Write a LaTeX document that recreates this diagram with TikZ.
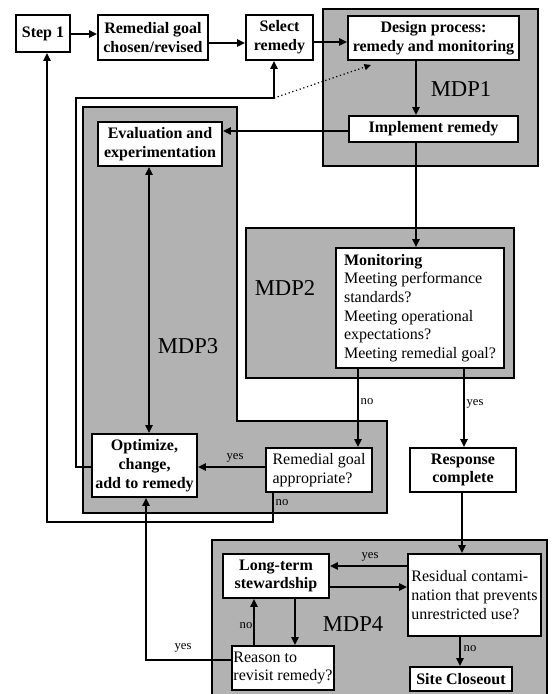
\documentclass[tikz,border=0pt]{standalone}
\usepackage{fontspec}
\setmainfont{Liberation Serif}
\usetikzlibrary{arrows.meta,calc}
\definecolor{mdpgray}{RGB}{178,178,178}
\begin{document}
\begin{tikzpicture}[x=0.75pt,y=-0.75pt,
  every node/.style={font=\fontsize{12}{14}\selectfont},
  sz/.style 2 args={minimum width=#1*0.75pt, minimum height=#2*0.75pt},
  box/.style={draw, fill=white, line width=1.4pt, inner sep=0pt},
  bbox/.style={box, font=\fontsize{12}{14}\selectfont\bfseries, align=center},
  tbox/.style={box, align=left},
  region/.style={draw, fill=mdpgray, line width=1.4pt},
  conn/.style={line width=1.4pt},
  tip/.tip={Triangle[length=6pt,width=5.5pt]},
  arr/.style={conn, -tip},
  lab/.style={font=\fontsize{9.5}{11}\selectfont, inner sep=0pt},
  mdp/.style={font=\fontsize{17}{20}\selectfont, inner sep=0pt}]
\useasboundingbox (0,0) rectangle (553,694);
\clip (0,0) rectangle (553,694);

% MDP regions
\draw[region] (323,9) rectangle (538,166);
\draw[region] (246,228) rectangle (514,378);
\draw[region] (83,107) -- (237,107) -- (237,421) -- (387,421) -- (387,513) -- (83,513) -- cycle;
\draw[region] (212,540) rectangle (547,720);

\node[mdp] (mdp1) at (461,89) {MDP1};
\node[mdp] (mdp2) at (285,288) {MDP2};
\node[mdp] (mdp3) at (188,346) {MDP3};
\node[mdp] (mdp4) at (353,624) {MDP4};

% boxes
\node[bbox, sz={54}{37}] (step1) at (43,33.5) {Step 1};
\node[bbox, sz={110}{45}] (rgoal) at (153,37.5) {Remedial goal\\chosen/revised};
\node[bbox, sz={67}{45}] (select) at (279.5,37.5) {Select\\remedy};
\node[bbox, sz={171}{44}] (design) at (433.5,38) {Design process:\\remedy and monitoring};
\node[bbox, sz={169}{26}] (impl) at (433.5,129) {Implement remedy};
\node[bbox, sz={124}{44}] (eval) at (160,144) {Evaluation and\\experimentation};
\node[bbox, sz={105}{63}] (opt) at (144.5,465.5) {Optimize,\\change,\\add to remedy};
\node[tbox, sz={168}{120}] (monitor) at (420,308) {\textbf{Monitoring}\\Meeting performance\\standards?\\Meeting operational\\expectations?\\Meeting remedial goal?};
\node[tbox, sz={106}{44}] (rga) at (319,470) {Remedial goal\\appropriate?};
\node[bbox, sz={106}{44}] (resp) at (463,470) {Response\\complete};
\node[bbox, sz={106}{44}] (lts) at (276,576) {Long-term\\stewardship};
\node[tbox, sz={133}{82}] (resid) at (474.5,595) {Residual contami-\\nation that prevents\\unrestricted use?};
\node[tbox, sz={102}{44}] (reason) at (283,668) {Reason to\\revisit remedy?};
\node[bbox, sz={102}{24}] (site) at (461,679) {Site Closeout};

% connectors
\draw[arr] (step1.east |- 0,34) -- (rgoal.west |- 0,34);
\draw[arr] (rgoal.east |- 0,43) -- (select.west |- 0,43);
\draw[arr] (select.east |- 0,42) -- (design.west |- 0,42);
\draw[arr] (design.south -| 416,0) -- (impl.north -| 416,0);
\draw[arr] (impl.west |- 0,131) -- (eval.east |- 0,131);
\draw[arr] (impl.south -| 416,0) -- (monitor.north -| 416,0);
\draw[conn, tip-tip] (eval.south -| 149,0) -- (opt.north -| 149,0);
\draw[arr] (monitor.south -| 358,0) -- (rga.north -| 358,0);
\draw[arr] (monitor.south -| 464,0) -- (resp.north -| 464,0);
\draw[arr] (rga.west |- 0,467) -- (opt.east |- 0,467);
\draw[arr] (opt.west |- 0,467) -- (76,467) -- (76,98) -- (274,98) coordinate (fb) -- (select.south -| 274,0);
\draw[line width=0.9pt, dotted, -{Triangle[length=5pt,width=4.5pt]}] (fb) -- ($(design.south west)+(24,4)$);
\draw[arr] (rga.south -| 273,0) -- (273,522) -- (47,522) -- (step1.south -| 47,0);
\draw[arr] (resp.south -| 462,0) -- (resid.north -| 462,0);
\draw[arr] (resid.west |- 0,566) -- (lts.east |- 0,566);
\draw[arr] (lts.east |- 0,587) -- (resid.west |- 0,587);
\draw[arr] (lts.south -| 295,0) -- (reason.north -| 295,0);
\draw[arr] (reason.north -| 254,0) -- (lts.south -| 254,0);
\draw[arr] (reason.west |- 0,660) -- (146,660) -- (opt.south -| 146,0);
\draw[arr] (resid.south -| 460,0) -- (site.north -| 460,0);

% labels
\node[lab] (lno1) at (367,402) {no};
\node[lab] (lyes1) at (475,404) {yes};
\node[lab] (lyes2) at (235,458) {yes};
\node[lab] (lno2) at (282,503) {no};
\node[lab] (lyes3) at (370,557) {yes};
\node[lab] (lno3) at (246,626) {no};
\node[lab] (lyes4) at (183,648) {yes};
\node[lab] (lno4) at (470,649) {no};
\end{tikzpicture}
\end{document}
